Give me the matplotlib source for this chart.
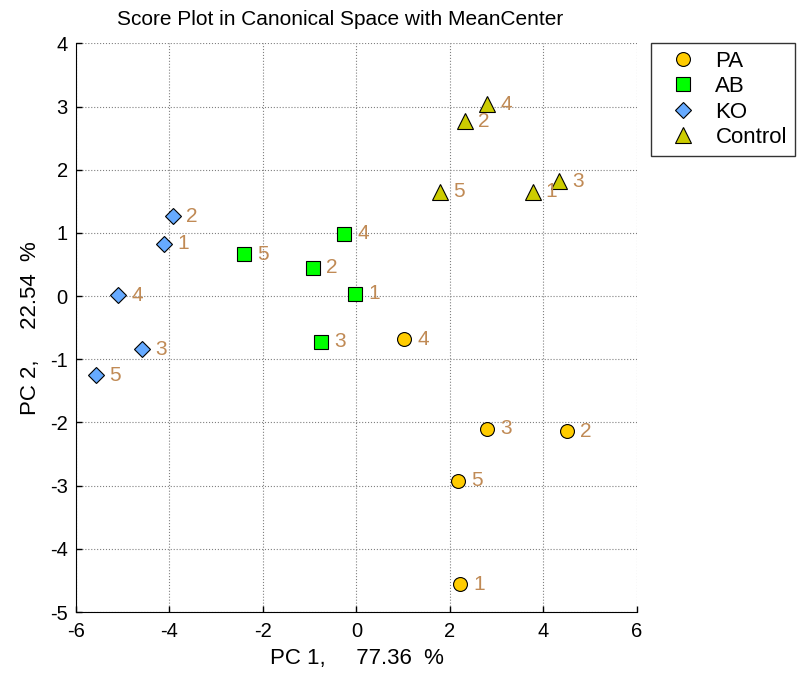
import matplotlib
matplotlib.use("Agg")
import matplotlib.pyplot as plt
from matplotlib.lines import Line2D

plt.rcParams['font.family'] = ['Liberation Sans', 'DejaVu Sans']
plt.rcParams['axes.unicode_minus'] = False

groups = ["PA", "AB", "KO", "Control"]
pa_x = [2.21, 4.50, 2.79, 1.02, 2.17]
pa_y = [-4.56, -2.14, -2.10, -0.68, -2.92]
ab_x = [-0.03, -0.93, -0.75, -0.26, -2.40]
ab_y = [0.04, 0.45, -0.72, 0.99, 0.66]
ko_x = [-4.11, -3.92, -4.58, -5.10, -5.57]
ko_y = [0.83, 1.26, -0.84, 0.01, -1.25]
ct_x = [3.77, 2.32, 4.33, 2.79, 1.78]
ct_y = [1.65, 2.77, 1.82, 3.04, 1.65]
point_labels = ["1", "2", "3", "4", "5"]

markers = ["o", "s", "D", "^"]
colors = ["#FFCC00", "#00FF00", "#66AAFF", "#CCCC00"]
sizes = [10, 9.5, 8.5, 11]
label_color = "#C08A55"

fig = plt.figure(figsize=(8.07, 6.73), dpi=100)
ax = fig.add_axes([0.0942, 0.0906, 0.695, 0.845])

data = [(pa_x, pa_y), (ab_x, ab_y), (ko_x, ko_y), (ct_x, ct_y)]
handles = []
for (xs, ys), m, c, s, g in zip(data, markers, colors, sizes, groups):
    ax.plot(xs, ys, linestyle='none', marker=m, markersize=s,
            markerfacecolor=c, markeredgecolor='black', markeredgewidth=0.8,
            zorder=3)
    for x, y, lab in zip(xs, ys, point_labels):
        ax.annotate(lab, (x, y), xytext=(9.5, 0), textcoords='offset points',
                    ha='left', va='center', fontsize=15, color=label_color,
                    zorder=4)
    handles.append(Line2D([], [], linestyle='none', marker=m, markersize=s,
                          markerfacecolor=c, markeredgecolor='black',
                          markeredgewidth=0.8, label=g))

ax.set_xlim(-6, 6)
ax.set_ylim(-5, 4)
ax.set_xticks(range(-6, 7, 2))
ax.set_yticks(range(-5, 5, 1))
ax.grid(True, linestyle=':', color='#808080', linewidth=0.8)
ax.set_axisbelow(True)
for sp in ['top', 'right']:
    ax.spines[sp].set_visible(False)
ax.tick_params(direction='in', length=4, labelsize=14.5, width=1)
ax.tick_params(axis='x', pad=7)
ax.tick_params(axis='y', pad=6)
ax.set_title("Score Plot in Canonical Space with MeanCenter", fontsize=15,
             pad=13, x=0.47)
ax.set_xlabel("PC 1,     77.36  %", fontsize=16, labelpad=5)
ax.set_ylabel("PC 2,     22.54  %", fontsize=16, labelpad=6)

leg = ax.legend(handles=handles, loc='upper left',
                bbox_to_anchor=(651 / 807, 1 - 43 / 673),
                bbox_transform=fig.transFigure, borderaxespad=0,
                fontsize=16, frameon=True, fancybox=False,
                handletextpad=0.35, labelspacing=0.2, borderpad=0.35,
                handlelength=2.2)
leg.get_frame().set_edgecolor('black')
leg.get_frame().set_linewidth(1.0)

fig.savefig("out.png", dpi=100)
